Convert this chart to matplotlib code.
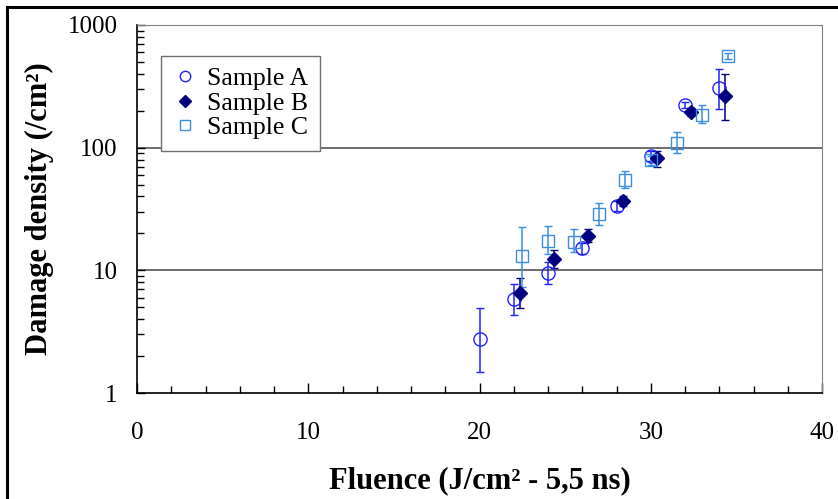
import numpy as np
import matplotlib.pyplot as plt
from matplotlib.lines import Line2D
from matplotlib.ticker import MultipleLocator, FixedLocator, NullFormatter

plt.rcParams['font.family'] = ['Liberation Serif', 'DejaVu Serif']

# Sample A
xa = [20, 22, 24, 26, 28, 30, 32, 34]
ya = [2.74, 5.83, 9.56, 15.1, 33.4, 86, 222, 304]
ya_lo = [1.49, 4.32, 7.8, 13.5, 30.5, 78, 210, 206]
ya_hi = [4.96, 7.7, 11.75, 16.8, 36.5, 94, 235, 437]

# Sample B
xb = [22.35, 24.35, 26.35, 28.35, 30.35, 32.35, 34.35]
yb = [6.57, 12.3, 19, 36.9, 82, 196, 264]
yb_lo = [4.96, 10.4, 17.1, 33.5, 69, 180, 168]
yb_hi = [8.7, 14.6, 21.6, 40.5, 94, 212, 398]

# Sample C
xc = [22.5, 24, 25.5, 27, 28.5, 30, 31.5, 33, 34.5]
yc = [13.1, 17.4, 17.1, 28.6, 54.5, 79, 110, 185, 561]
yc_lo = [7.35, 13.6, 14.2, 23.4, 47, 72, 90, 159, 530]
yc_hi = [22.6, 23.1, 21.6, 35.5, 64, 86, 135, 222, 595]

col_a = '#2222ff'
col_b = '#000080'
col_c = '#3a8ee0'

fig = plt.figure(figsize=(8.38, 4.99), dpi=100)
ax = fig.add_axes([0.1635, 0.2124, 0.8175, 0.7376])

def series(x, y, lo, hi, marker, color, filled, ms, label):
    y = np.array(y)
    err = [y - np.array(lo), np.array(hi) - y]
    ax.errorbar(x, y, yerr=err, fmt=marker, ms=ms, mec=color,
                mfc=color if filled else 'none', mew=1.0, ecolor=color,
                elinewidth=1.1, capsize=3, capthick=1.1, label=label, zorder=3)

series(xa, ya, ya_lo, ya_hi, 'o', col_a, False, 9.5, 'Sample A')
series(xb, yb, yb_lo, yb_hi, 'D', col_b, True, 7.5, 'Sample B')
series(xc, yc, yc_lo, yc_hi, 's', col_c, False, 8.5, 'Sample C')

ax.set_yscale('log')
ax.set_xlim(0, 40)
ax.set_ylim(1, 1000)

for g in [10, 100]:
    ax.axhline(g, color='#555555', lw=1.2, zorder=1)

ax.xaxis.set_major_locator(MultipleLocator(10))
ax.xaxis.set_minor_locator(MultipleLocator(2))
ax.yaxis.set_major_locator(FixedLocator([1, 10, 100, 1000]))
ax.yaxis.set_minor_locator(FixedLocator([m * 10**d for d in range(3) for m in range(2, 10)]))
ax.yaxis.set_minor_formatter(NullFormatter())
ax.set_yticklabels(['1', '10', '100', '1000'])

ax.tick_params(axis='x', which='major', direction='in', length=7, width=1, pad=21, labelsize=18)
ax.tick_params(axis='x', which='minor', direction='in', length=5, width=1)
ax.tick_params(axis='y', which='major', direction='in', length=6, width=1, pad=14, labelsize=18)
ax.tick_params(axis='y', which='minor', direction='in', length=5, width=1)

for s in ['top', 'right']:
    ax.spines[s].set_color('#808080')
for s in ['left', 'bottom']:
    ax.spines[s].set_color('black')
    ax.spines[s].set_linewidth(1.2)

ax.set_xlabel('Fluence (J/cm² - 5,5 ns)', fontsize=22, fontweight='bold', labelpad=16)
ax.set_ylabel('Damage density (/cm²)', fontsize=22, fontweight='bold', labelpad=10)

handles = [
    Line2D([], [], marker='o', ls='none', ms=7.5, mec=col_a, mfc='none', mew=1.0),
    Line2D([], [], marker='D', ls='none', ms=6.5, mec=col_b, mfc=col_b, mew=1.0),
    Line2D([], [], marker='s', ls='none', ms=7.5, mec=col_c, mfc='none', mew=1.0),
]
leg = ax.legend(handles, ['Sample A', 'Sample B', 'Sample C'], loc='upper left',
                bbox_to_anchor=(0.035, 0.916), borderaxespad=0, fontsize=18.5,
                frameon=True, fancybox=False, edgecolor='#707070', framealpha=1,
                handlelength=1.0, handletextpad=0.35, labelspacing=0.06,
                borderpad=0.45)
leg.get_frame().set_linewidth(1.0)

# outer frame of the figure
fig.add_artist(Line2D([7 / 838, 1], [1 - 7 / 499, 1 - 7 / 499], transform=fig.transFigure,
                      color='black', lw=2.2))
fig.add_artist(Line2D([7 / 838, 7 / 838], [0, 1 - 7 / 499], transform=fig.transFigure,
                      color='black', lw=2.2))

fig.savefig('out.png', dpi=100)
